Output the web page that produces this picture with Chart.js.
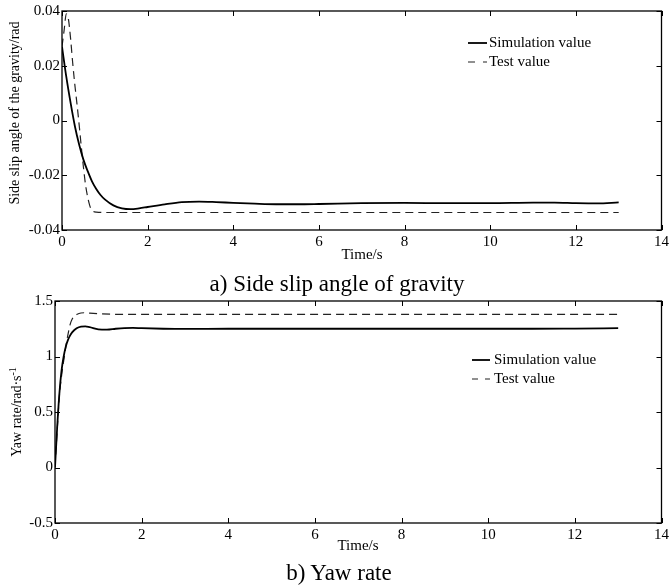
<!DOCTYPE html>
<html><head><meta charset="utf-8">
<script src="https://cdn.jsdelivr.net/npm/chart.js@4.4.1/dist/chart.umd.min.js"></script>
<style>
html,body{margin:0;padding:0;background:#fff;}
#wrap{position:relative;width:672px;height:585px;overflow:hidden;font-family:"Liberation Serif","Times New Roman",serif;color:#000;}
canvas{position:absolute;left:0;}
.t{position:absolute;white-space:nowrap;}
.c{transform:translateX(-50%);}
.r{transform:translate(-50%,-50%) rotate(-90deg);}
</style></head><body>
<div id="wrap">
<canvas id="c1" width="672" height="250" style="top:0px"></canvas>
<canvas id="c2" width="672" height="250" style="top:290px"></canvas>
<div class="t c" style="left:362px;top:247px;font-size:15px;line-height:15px">Time/s</div>
<div class="t c" style="left:337px;top:272px;font-size:23px;line-height:23px">a) Side slip angle of gravity</div>
<div class="t r" style="left:15px;top:113px;font-size:14px;line-height:14px">Side slip angle of the gravity/rad</div>
<div class="t c" style="left:358px;top:538px;font-size:15px;line-height:15px">Time/s</div>
<div class="t c" style="left:339px;top:561px;font-size:23px;line-height:23px">b) Yaw rate</div>
<div class="t r" style="left:17px;top:412px;font-size:14px;line-height:14px">Yaw rate/rad·s<span style="font-size:10px;position:relative;top:-5px">-1</span></div>
</div>
<script>
// ---- data ----
const X_TICKS = [0, 2, 4, 6, 8, 10, 12, 14];
const X_LABELS = ['0', '2', '4', '6', '8', '10', '12', '14'];

const Y_TICKS_A = [-0.04, -0.02, 0, 0.02, 0.04];
const Y_LABELS_A = ['-0.04', '-0.02', '0', '0.02', '0.04'];
const Y_TICKS_B = [-0.5, 0, 0.5, 1, 1.5];
const Y_LABELS_B = ['-0.5', '0', '0.5', '1', '1.5'];

const SERIES_NAMES = ['Simulation value', 'Test value'];

const TIME_A_SIM = [0, 0.1, 0.2, 0.3, 0.4, 0.5, 0.6, 0.7, 0.8, 0.9, 1.0, 1.2, 1.4, 1.6, 1.8, 2.0, 2.4, 2.8, 3.2, 3.6, 4.0, 4.5, 5.0, 5.5, 6, 7, 8, 9, 10, 11, 11.5, 12, 12.5, 13];
const SLIP_SIM = [0.027, 0.016, 0.0065, -0.002, -0.0088, -0.0143, -0.0185, -0.0222, -0.025, -0.0272, -0.0288, -0.031, -0.0321, -0.0324, -0.0321, -0.0316, -0.0306, -0.0298, -0.0296, -0.0298, -0.0301, -0.0304, -0.0306, -0.0306, -0.0305, -0.0302, -0.0301, -0.0302, -0.0302, -0.03, -0.03, -0.0302, -0.0303, -0.0299];

const TIME_A_TEST = [0, 0.05, 0.1, 0.15, 0.2, 0.25, 0.3, 0.35, 0.4, 0.45, 0.5, 0.55, 0.6, 0.65, 0.7, 0.8, 1.0, 2, 4, 6, 8, 10, 12, 13];
const SLIP_TEST = [0.027, 0.033, 0.039, 0.037, 0.03, 0.021, 0.013, 0.006, -0.0015, -0.0095, -0.017, -0.0235, -0.028, -0.0312, -0.0328, -0.0335, -0.0336, -0.0336, -0.0336, -0.0336, -0.0336, -0.0336, -0.0336, -0.0336];

const TIME_B_SIM = [0, 0.05, 0.1, 0.15, 0.2, 0.25, 0.3, 0.35, 0.4, 0.5, 0.6, 0.7, 0.8, 1.0, 1.2, 1.4, 1.6, 1.8, 2.0, 2.5, 3, 4, 5, 6, 7, 8, 9, 10, 11, 12, 13];
const YAW_SIM = [0, 0.36, 0.66, 0.87, 1.0, 1.09, 1.15, 1.19, 1.22, 1.255, 1.27, 1.272, 1.265, 1.245, 1.242, 1.25, 1.256, 1.258, 1.255, 1.25, 1.248, 1.25, 1.25, 1.25, 1.25, 1.25, 1.25, 1.25, 1.25, 1.252, 1.255];

const TIME_B_TEST = [0, 0.05, 0.1, 0.15, 0.2, 0.25, 0.3, 0.35, 0.4, 0.45, 0.5, 0.6, 0.7, 0.8, 1.0, 1.5, 2, 4, 6, 8, 10, 12, 13];
const YAW_TEST = [0, 0.33, 0.64, 0.82, 0.96, 1.09, 1.2, 1.29, 1.34, 1.365, 1.378, 1.392, 1.394, 1.39, 1.385, 1.38, 1.38, 1.38, 1.38, 1.38, 1.38, 1.38, 1.38];

// ---- chart setup ----
Chart.defaults.font.family = '"Liberation Serif", "Times New Roman", serif';
Chart.defaults.color = '#000';

const toXY = (xs, ys) => xs.map((x, i) => ({x: x, y: ys[i]}));

const boxTicks = {
  id: 'boxTicks',
  afterDraw(chart) {
    const {ctx, chartArea: a, scales: {x, y}} = chart;
    ctx.save();
    ctx.strokeStyle = '#000';
    ctx.lineWidth = 1;
    ctx.setLineDash([]);
    ctx.beginPath();
    x.ticks.forEach(t => {
      const px = Math.round(x.getPixelForValue(t.value)) + 0.5;
      ctx.moveTo(px, a.bottom); ctx.lineTo(px, a.bottom - 5);
      ctx.moveTo(px, a.top); ctx.lineTo(px, a.top + 5);
    });
    y.ticks.forEach(t => {
      const py = Math.round(y.getPixelForValue(t.value)) + 0.5;
      ctx.moveTo(a.left, py); ctx.lineTo(a.left + 5, py);
      ctx.moveTo(a.right, py); ctx.lineTo(a.right - 5, py);
    });
    ctx.stroke();
    ctx.lineWidth = 1.3;
    ctx.strokeRect(a.left, a.top, a.right - a.left, a.bottom - a.top);
    ctx.restore();
  }
};

const inLegend = {
  id: 'inLegend',
  afterDraw(chart, args, opts) {
    const ctx = chart.ctx;
    ctx.save();
    chart.data.datasets.forEach((ds, i) => {
      const yy = opts.rows[i];
      ctx.beginPath();
      ctx.strokeStyle = ds.borderColor;
      ctx.lineWidth = ds.borderWidth;
      ctx.setLineDash(opts.dashes[i]);
      ctx.moveTo(opts.x0, yy); ctx.lineTo(opts.x1, yy);
      ctx.stroke();
      ctx.setLineDash([]);
      ctx.fillStyle = '#000';
      ctx.font = '15px "Liberation Serif", "Times New Roman", serif';
      ctx.textBaseline = 'middle';
      ctx.textAlign = 'left';
      ctx.fillText(ds.label, opts.textX, yy);
    });
    ctx.restore();
  }
};

function makeChart(id, simXY, testXY, yMin, yMax, yTicks, yLabels, yWidth, padTop, xHeight, legendOpts) {
  return new Chart(document.getElementById(id), {
    type: 'line',
    data: {
      datasets: [
        {label: SERIES_NAMES[0], data: simXY, borderColor: '#000', borderWidth: 1.8, pointRadius: 0, fill: false, cubicInterpolationMode: 'monotone'},
        {label: SERIES_NAMES[1], data: testXY, borderColor: '#222', borderWidth: 1.2, borderDash: [8, 5], pointRadius: 0, fill: false, cubicInterpolationMode: 'monotone'}
      ]
    },
    options: {
      responsive: false,
      animation: false,
      events: [],
      layout: {padding: {left: 0, right: 10, top: padTop, bottom: 0}},
      plugins: {legend: {display: false}, tooltip: {enabled: false}, inLegend: legendOpts},
      scales: {
        x: {
          type: 'linear', min: 0, max: 14,
          afterBuildTicks: s => { s.ticks = X_TICKS.map(v => ({value: v})); },
          afterFit: s => { s.height = xHeight; },
          ticks: {padding: 3, font: {size: 15}, color: '#000', maxRotation: 0, autoSkip: false,
                  callback: v => X_LABELS[X_TICKS.indexOf(v)]},
          grid: {display: false, drawTicks: false},
          border: {display: false}
        },
        y: {
          type: 'linear', min: yMin, max: yMax,
          afterBuildTicks: s => { s.ticks = yTicks.map(v => ({value: v})); },
          afterFit: s => { s.width = yWidth; },
          ticks: {padding: 2, font: {size: 15}, color: '#000', autoSkip: false,
                  callback: v => yLabels[yTicks.indexOf(v)]},
          grid: {display: false, drawTicks: false},
          border: {display: false}
        }
      }
    },
    plugins: [boxTicks, inLegend]
  });
}

makeChart('c1', toXY(TIME_A_SIM, SLIP_SIM), toXY(TIME_A_TEST, SLIP_TEST),
  -0.04, 0.04, Y_TICKS_A, Y_LABELS_A, 62, 10, 20,
  {x0: 468, x1: 487, textX: 489, rows: [43, 62], dashes: [[], [7, 8]]});

makeChart('c2', toXY(TIME_B_SIM, YAW_SIM), toXY(TIME_B_TEST, YAW_TEST),
  -0.5, 1.5, Y_TICKS_B, Y_LABELS_B, 55, 11, 17,
  {x0: 472, x1: 490, textX: 494, rows: [70, 89], dashes: [[], [6, 7]]});
</script>
</body></html>
